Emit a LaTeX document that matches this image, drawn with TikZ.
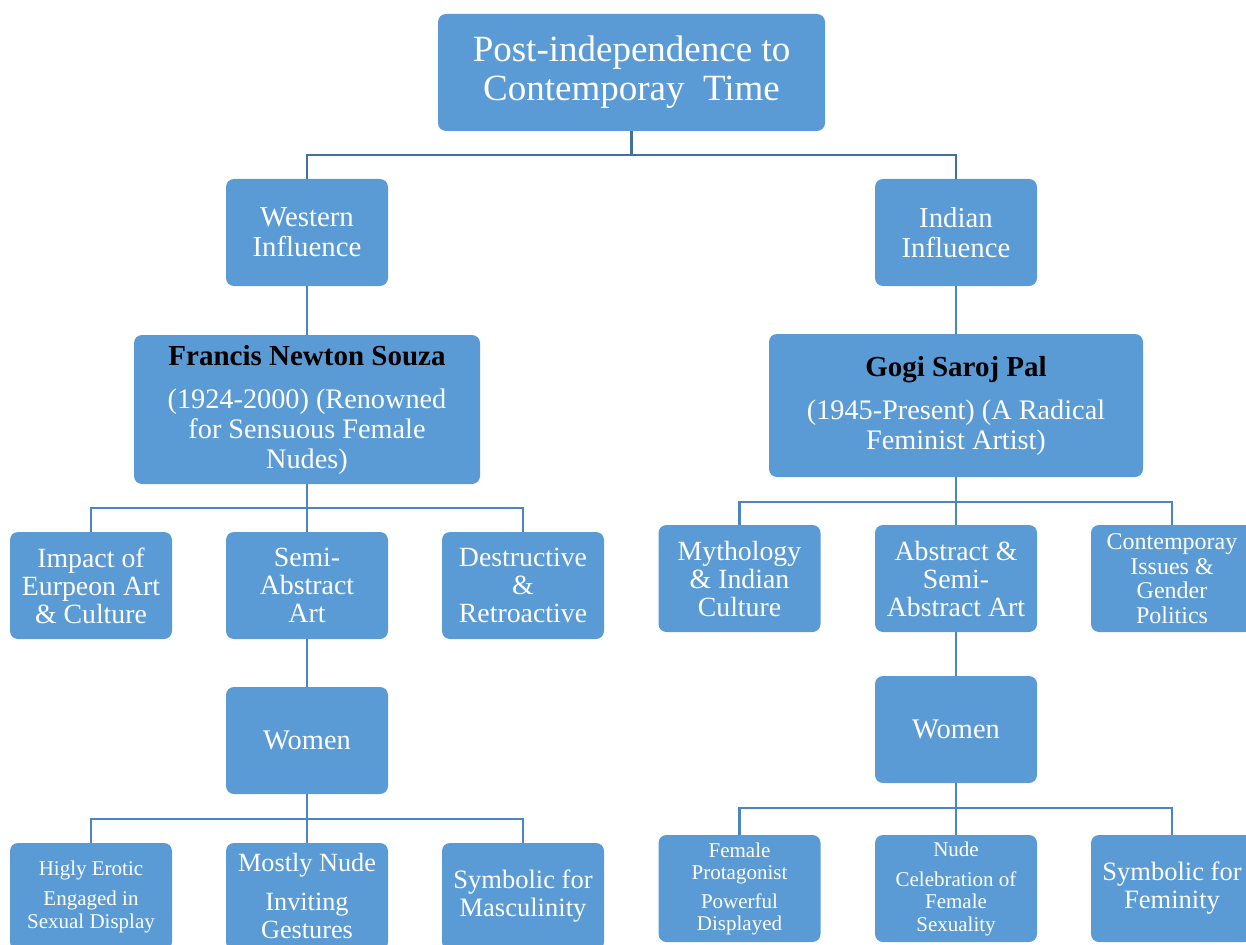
\documentclass[tikz,border=0pt]{standalone}
\usepackage{fontspec}
\setmainfont{Liberation Serif}
\definecolor{boxblue}{HTML}{5B9BD5}
\definecolor{lineA}{HTML}{41719C}
\definecolor{lineB}{HTML}{4A86C5}
\newcommand\fsz[2]{\fontsize{#1}{#2}\selectfont}
\begin{document}
\begin{tikzpicture}[x=0.75pt,y=-0.75pt,
  box/.style={fill=boxblue, draw=none, rounded corners=6pt, text=white, align=center, inner sep=0pt,
    minimum width=121.5pt, minimum height=80.25pt},
  conn/.style={draw=lineB, line width=1.6pt},
  connTop/.style={draw=lineA, line width=1.6pt},
  lvthree/.style={box, font=\fsz{20.85pt}{21pt}},
  small/.style={box, font=\fsz{15.75pt}{16.9pt}},
  mid/.style={box, font=\fsz{19.9pt}{21pt}}]
\useasboundingbox (0,0) rectangle (1246,945);
\clip (0,0) rectangle (1246,945);
% top
\node[box, minimum width=290.25pt, minimum height=87.75pt, font=\fsz{27.75pt}{29.25pt}] (top) at (631.5,72.5) {\raisebox{-2pt}{Post-independence to}\\\raisebox{-2pt}{Contemporay\ \ Time}};
% level 2
\node[box, font=\fsz{21.6pt}{22.5pt}] (west) at (307,232.5) {Western\\Influence};
\node[box, font=\fsz{21.6pt}{22.5pt}] (ind) at (956,232.5) {Indian\\Influence};
% artists
\node[box, minimum width=259.5pt, minimum height=111.75pt, font=\fsz{21.2pt}{22.5pt}] (souza) at (307,409.5)
  {{\bfseries\fsz{21.75pt}{22.5pt}\color{black}Francis Newton Souza}\\[9.75pt](1924-2000) (Renowned\\for Sensuous Female\\Nudes)};
\node[box, minimum width=280.5pt, minimum height=107.25pt, font=\fsz{21.2pt}{22.5pt}] (gogi) at (956,405.5)
  {{\bfseries\fsz{21.75pt}{22.5pt}\color{black}Gogi Saroj Pal}\\[9.75pt](1945-Present) (A Radical\\Feminist Artist)};
% level 3 left
\node[lvthree] (imp) at (91,585.5) {Impact of\\Eurpeon Art\\\& Culture};
\node[lvthree] (semi) at (307,585.5) {Semi-\\Abstract\\Art};
\node[lvthree] (des) at (523,585.5) {Destructive\\\&\\Retroactive};
% level 3 right
\node[lvthree] (myth) at (739.5,578.5) {Mythology\\\& Indian\\Culture};
\node[lvthree] (abs) at (956,578.5) {Abstract \&\\Semi-\\Abstract Art};
\node[box, font=\fsz{18pt}{18.4pt}] (cont) at (1172,578.5) {Contemporay\\Issues \&\\Gender\\Politics};
% women
\node[box, font=\fsz{21.3pt}{22.5pt}] (wl) at (307,740.5) {Women};
\node[box, font=\fsz{21.3pt}{22.5pt}] (wr) at (956,729.5) {Women};
% bottom left
\node[small] (ero) at (91,896.5) {Higly Erotic\\[5.6pt]Engaged in\\Sexual Display\\[-14pt]\mbox{}};
\node[box, font=\fsz{19.7pt}{21pt}] (nude) at (307,896.5) {Mostly Nude\\[8.25pt]Inviting\\Gestures};
\node[mid] (masc) at (523,896.5) {Symbolic for\\Masculinity};
% bottom right
\node[small] (fem) at (739.5,888.5) {Female\\Protagonist\\[4.5pt]Powerful\\Displayed\\[-14pt]\mbox{}};
\node[small] (cel) at (956,888.5) {Nude\\[5.6pt]Celebration of\\Female\\Sexuality\\[-14pt]\mbox{}};
\node[mid] (femi) at (1172,888.5) {Symbolic for\\Feminity};
% bus coordinates
\coordinate (b1) at (631.5,155);
\coordinate (b2) at (307,508);
\coordinate (b3) at (956,502);
\coordinate (b4) at (307,819);
\coordinate (b5) at (956,808);
% connectors
\draw[connTop] (top.south) -- (b1);
\draw[connTop] (west.north) |- (b1) -| (ind.north);
\draw[conn] (west.south) -- (souza.north);
\draw[conn] (ind.south) -- (gogi.north);
\draw[conn] (souza.south) -- (b2);
\draw[conn] (imp.north) |- (b2) -| (des.north);
\draw[conn] (semi.north) -- (b2);
\draw[conn] (gogi.south) -- (b3);
\draw[conn] (myth.north) |- (b3) -| (cont.north);
\draw[conn] (abs.north) -- (b3);
\draw[conn] (semi.south) -- (wl.north);
\draw[conn] (abs.south) -- (wr.north);
\draw[conn] (wl.south) -- (b4);
\draw[conn] (ero.north) |- (b4) -| (masc.north);
\draw[conn] (nude.north) -- (b4);
\draw[conn] (wr.south) -- (b5);
\draw[conn] (fem.north) |- (b5) -| (femi.north);
\draw[conn] (cel.north) -- (b5);
\end{tikzpicture}
\end{document}
